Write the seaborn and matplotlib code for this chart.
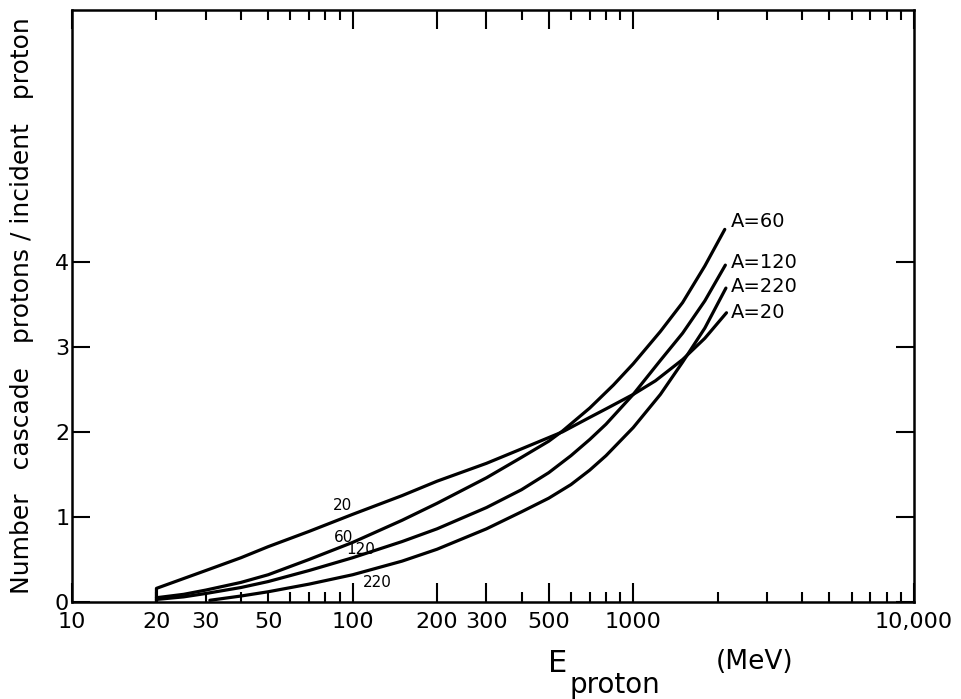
import numpy as np
import pandas as pd
import matplotlib
matplotlib.use("Agg")
import matplotlib.pyplot as plt
import seaborn as sns
from matplotlib.ticker import FixedLocator, NullFormatter

# cascade proton yield vs incident proton energy
e_a20 = [20, 20, 30, 40, 50, 70, 100, 150, 200, 300, 400, 560, 700, 800, 1000, 1200, 1500, 1800, 2150]
n_a20 = [0.0, 0.16, 0.37, 0.52, 0.65, 0.83, 1.03, 1.25, 1.42, 1.63, 1.80, 2.00, 2.17, 2.27, 2.44, 2.60, 2.85, 3.10, 3.40]

e_a60 = [20, 25, 30, 40, 50, 70, 100, 150, 200, 300, 400, 500, 560, 700, 850, 1000, 1250, 1500, 1800, 2120]
n_a60 = [0.05, 0.09, 0.14, 0.23, 0.32, 0.50, 0.70, 0.96, 1.16, 1.46, 1.70, 1.89, 2.01, 2.28, 2.55, 2.80, 3.18, 3.52, 3.95, 4.38]

e_a120 = [20, 25, 30, 40, 50, 70, 100, 150, 200, 300, 400, 500, 600, 700, 800, 1000, 1250, 1500, 1800, 2130]
n_a120 = [0.03, 0.06, 0.10, 0.17, 0.24, 0.37, 0.52, 0.71, 0.86, 1.11, 1.32, 1.52, 1.72, 1.91, 2.09, 2.44, 2.84, 3.16, 3.54, 3.96]

e_a220 = [31, 40, 50, 70, 100, 150, 200, 300, 400, 500, 600, 700, 800, 1000, 1250, 1500, 1800, 2140]
n_a220 = [0.02, 0.07, 0.12, 0.21, 0.32, 0.48, 0.62, 0.86, 1.06, 1.22, 1.38, 1.55, 1.72, 2.05, 2.44, 2.82, 3.22, 3.69]

mass_numbers = ["20", "60", "120", "220"]

frames = []
for a, e, n in zip(mass_numbers, [e_a20, e_a60, e_a120, e_a220],
                   [n_a20, n_a60, n_a120, n_a220]):
    frames.append(pd.DataFrame({"E": e, "N": n, "A": a}))
df = pd.concat(frames, ignore_index=True)

# in-line labels near 100 MeV and end labels
inline_x = [92, 93, 107, 122]
inline_y = [1.13, 0.76, 0.62, 0.23]
end_x = [2230, 2230, 2230, 2230]
end_y = [3.40, 4.47, 3.99, 3.71]

sns.set_theme(style="ticks")
plt.rcParams["font.family"] = ["DejaVu Sans"]
plt.rcParams["text.color"] = "black"
plt.rcParams["axes.labelcolor"] = "black"

fig = plt.figure(figsize=(9.61, 6.99), dpi=100)
ax = fig.add_axes([0.0749, 0.1388, 0.876, 0.847])

sns.lineplot(data=df, x="E", y="N", units="A", estimator=None, sort=False,
             color="black", linewidth=2.3, ax=ax, legend=False)
for ln in ax.get_lines():
    ln.set_solid_joinstyle("round")

ax.set_xscale("log")
ax.set_xlim(10, 10000)
ax.set_ylim(0, 6.96)

major_x = [10, 20, 30, 50, 100, 200, 300, 500, 1000, 10000]
major_lbl = ["10", "20", "30", "50", "100", "200", "300", "500", "1000", "10,000"]
long_x = [10, 100, 200, 300, 500, 1000, 10000]
minor_x = [40, 60, 70, 80, 90, 400, 600, 700, 800, 900,
           2000, 3000, 4000, 5000, 6000, 7000, 8000, 9000]
ax.xaxis.set_major_locator(FixedLocator(major_x))
ax.set_xticklabels(major_lbl)
ax.xaxis.set_minor_locator(FixedLocator(minor_x))
ax.xaxis.set_minor_formatter(NullFormatter())
ax.set_yticks([0, 1, 2, 3, 4])
ax.set_yticklabels(["0", "1", "2", "3", "4"])

ax.tick_params(axis="both", which="both", direction="in", top=True, right=True,
               width=1.5, colors="black", labelcolor="black", labelsize=16)
ax.tick_params(axis="x", which="major", length=14, pad=7)
ax.tick_params(axis="x", which="minor", length=7)
ax.tick_params(axis="y", which="major", length=13, pad=2)
for t, v in zip(ax.xaxis.get_major_ticks(), major_x):
    if v not in long_x:
        t.tick1line.set_markersize(7)
        t.tick2line.set_markersize(7)

for s in ax.spines.values():
    s.set_linewidth(1.8)
    s.set_color("black")

for lbl, x, y in zip(mass_numbers, inline_x, inline_y):
    ax.text(x, y, lbl, fontsize=11, ha="center", va="center", color="black")
for lbl, x, y in zip(mass_numbers, end_x, end_y):
    ax.text(x, y, "A=" + lbl, fontsize=14, ha="left", va="center", color="black")

ax.set_xlabel("")
ax.set_ylabel("Number   cascade   protons / incident   proton", fontsize=18,
              color="black")
ax.yaxis.set_label_coords(-0.045, 0.5)

fig.text(548 / 961, 1 - 663 / 699, "E", fontsize=22, ha="left", va="center")
fig.text(570 / 961, 1 - 685 / 699, "proton", fontsize=20, ha="left", va="center")
fig.text(716 / 961, 1 - 662 / 699, "(MeV)", fontsize=19, ha="left", va="center")

fig.savefig("out.png", dpi=100)
